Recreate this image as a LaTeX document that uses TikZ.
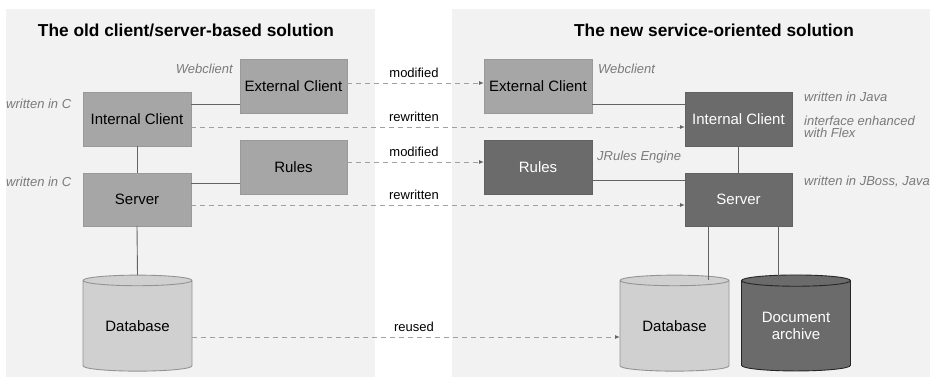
\documentclass[tikz,border=0pt]{standalone}
\usepackage{fontspec}
\setmainfont{Liberation Sans}
\usetikzlibrary{arrows.meta,shapes.geometric}
\definecolor{panel}{HTML}{F2F2F2}
\definecolor{boxmid}{HTML}{A6A6A6}
\definecolor{boxdark}{HTML}{6B6B6B}
\definecolor{dblight}{HTML}{D0D0D0}
\definecolor{labgray}{HTML}{7A7A7A}
\definecolor{conn}{HTML}{636363}
\definecolor{dashc}{HTML}{A0A0A0}
\begin{document}
\begin{tikzpicture}[x=1pt,y=-1pt,
  box/.style={rectangle, inner sep=0pt, outer sep=0pt, minimum width=108pt, minimum height=54pt,
    font=\fontsize{15}{17}\selectfont, anchor=north west},
  midbox/.style={box, fill=boxmid, draw=boxmid!92!black, line width=0.5pt},
  darkbox/.style={box, fill=boxdark, draw=boxdark!92!black, line width=0.5pt, text=white},
  cyl/.style={cylinder, shape border rotate=90, aspect=0.165, minimum width=109pt, minimum height=96pt,
    inner sep=0pt, outer sep=0pt, font=\fontsize{15}{17}\selectfont, line width=0.9pt, align=center},
  lightcyl/.style={cyl, fill=dblight, draw=gray!85},
  darkcyl/.style={cyl, fill=boxdark, draw=black!85, text=white},
  link/.style={draw=conn, line width=0.9pt},
  change/.style={draw=dashc, line width=1pt, dash pattern=on 5pt off 4pt,
    -{Latex[length=5pt,width=4pt,color=conn]}},
  note/.style={font=\itshape\fontsize{13}{12}\selectfont, text=labgray, inner sep=0pt, align=left},
  chg/.style={font=\fontsize{13}{14}\selectfont, inner sep=0pt},
  ttl/.style={font=\bfseries\fontsize{17.3}{19}\selectfont, inner sep=0pt}
]
\useasboundingbox[fill=white] (0,0) rectangle (936,378);
\fill[panel] (6,9) rectangle (375,377);
\fill[panel] (452,9) rectangle (930,377);

\node[ttl] (tL) at (186,30) {The old client/server-based solution};
\node[ttl] (tR) at (714,30) {The new service-oriented solution};

% old
\node[midbox, minimum width=107pt] (Lext) at (240,59) {External Client};
\node[midbox] (Lint) at (83,92) {Internal Client};
\node[midbox, minimum width=107pt] (Lrules) at (240,140) {Rules};
\node[midbox, minimum height=53pt] (Lsrv) at (83,173) {Server};
\node[lightcyl] (LDB) at (137.5,326) {Database};

% new
\node[midbox] (Rext) at (484,59) {External Client};
\node[darkbox] (Rrules) at (484,140) {Rules};
\node[darkbox, minimum width=107pt] (Rint) at (685,92) {Internal Client};
\node[darkbox, minimum width=107pt, minimum height=53pt] (Rsrv) at (685,173) {Server};
\node[lightcyl] (RDB) at (674.5,326) {Database};
\node[darkcyl] (Rdoc) at (796,326) {Document\\archive};

% solid links
\draw[link] (Lint.east |- 0,104) -- (Lext.west |- 0,104);
\draw[link] (Lint.south) -- (Lsrv.north);
\draw[link] (Lsrv.east |- 0,183) -- (Lrules.west |- 0,183);
\draw[link] (Lsrv.south) -- (LDB.top);
\draw[link] (Rext.east |- 0,104) -- (Rint.west |- 0,104);
\draw[link] (Rint.south) -- (Rsrv.north);
\draw[link] (Rrules.east |- 0,180) -- (Rsrv.west |- 0,180);
\coordinate (dbtop) at (708,280);
\coordinate (doctop) at (778,279);
\draw[link] (Rsrv.south -| dbtop) -- (dbtop);
\draw[link] (Rsrv.south -| doctop) -- (doctop);

% changes
\draw[change] (Lext.east |- 0,83) -- (Rext.west |- 0,83);
\draw[change] (Lint.east |- 0,127) -- (Rint.west |- 0,127);
\draw[change] (Lrules.east |- 0,162) -- (Rrules.west |- 0,162);
\draw[change] (Lsrv.east |- 0,205) -- (Rsrv.west |- 0,205);
\draw[change] (LDB.east |- 0,337) -- (RDB.west |- 0,337);

\node[chg] (m1) at (414,73) {modified};
\node[chg] (r1) at (414,117) {rewritten};
\node[chg] (m2) at (414,152) {modified};
\node[chg] (r2) at (414,195) {rewritten};
\node[chg] (u1) at (414,327) {reused};

% notes
\node[note, anchor=east] (n1) at (233,69) {Webclient};
\node[note, anchor=west] (n2) at (6,104) {written in C};
\node[note, anchor=west] (n3) at (6,182) {written in C};
\node[note, anchor=west] (n4) at (598,69) {Webclient};
\node[note, anchor=west] (n5) at (804,97) {written in Java};
\node[note, anchor=west] (n6) at (804,127) {interface enhanced\\with Flex};
\node[note, anchor=west] (n7) at (597,157) {JRules Engine};
\node[note, anchor=west] (n8) at (804,182) {written in JBoss, Java};
\end{tikzpicture}
\end{document}
